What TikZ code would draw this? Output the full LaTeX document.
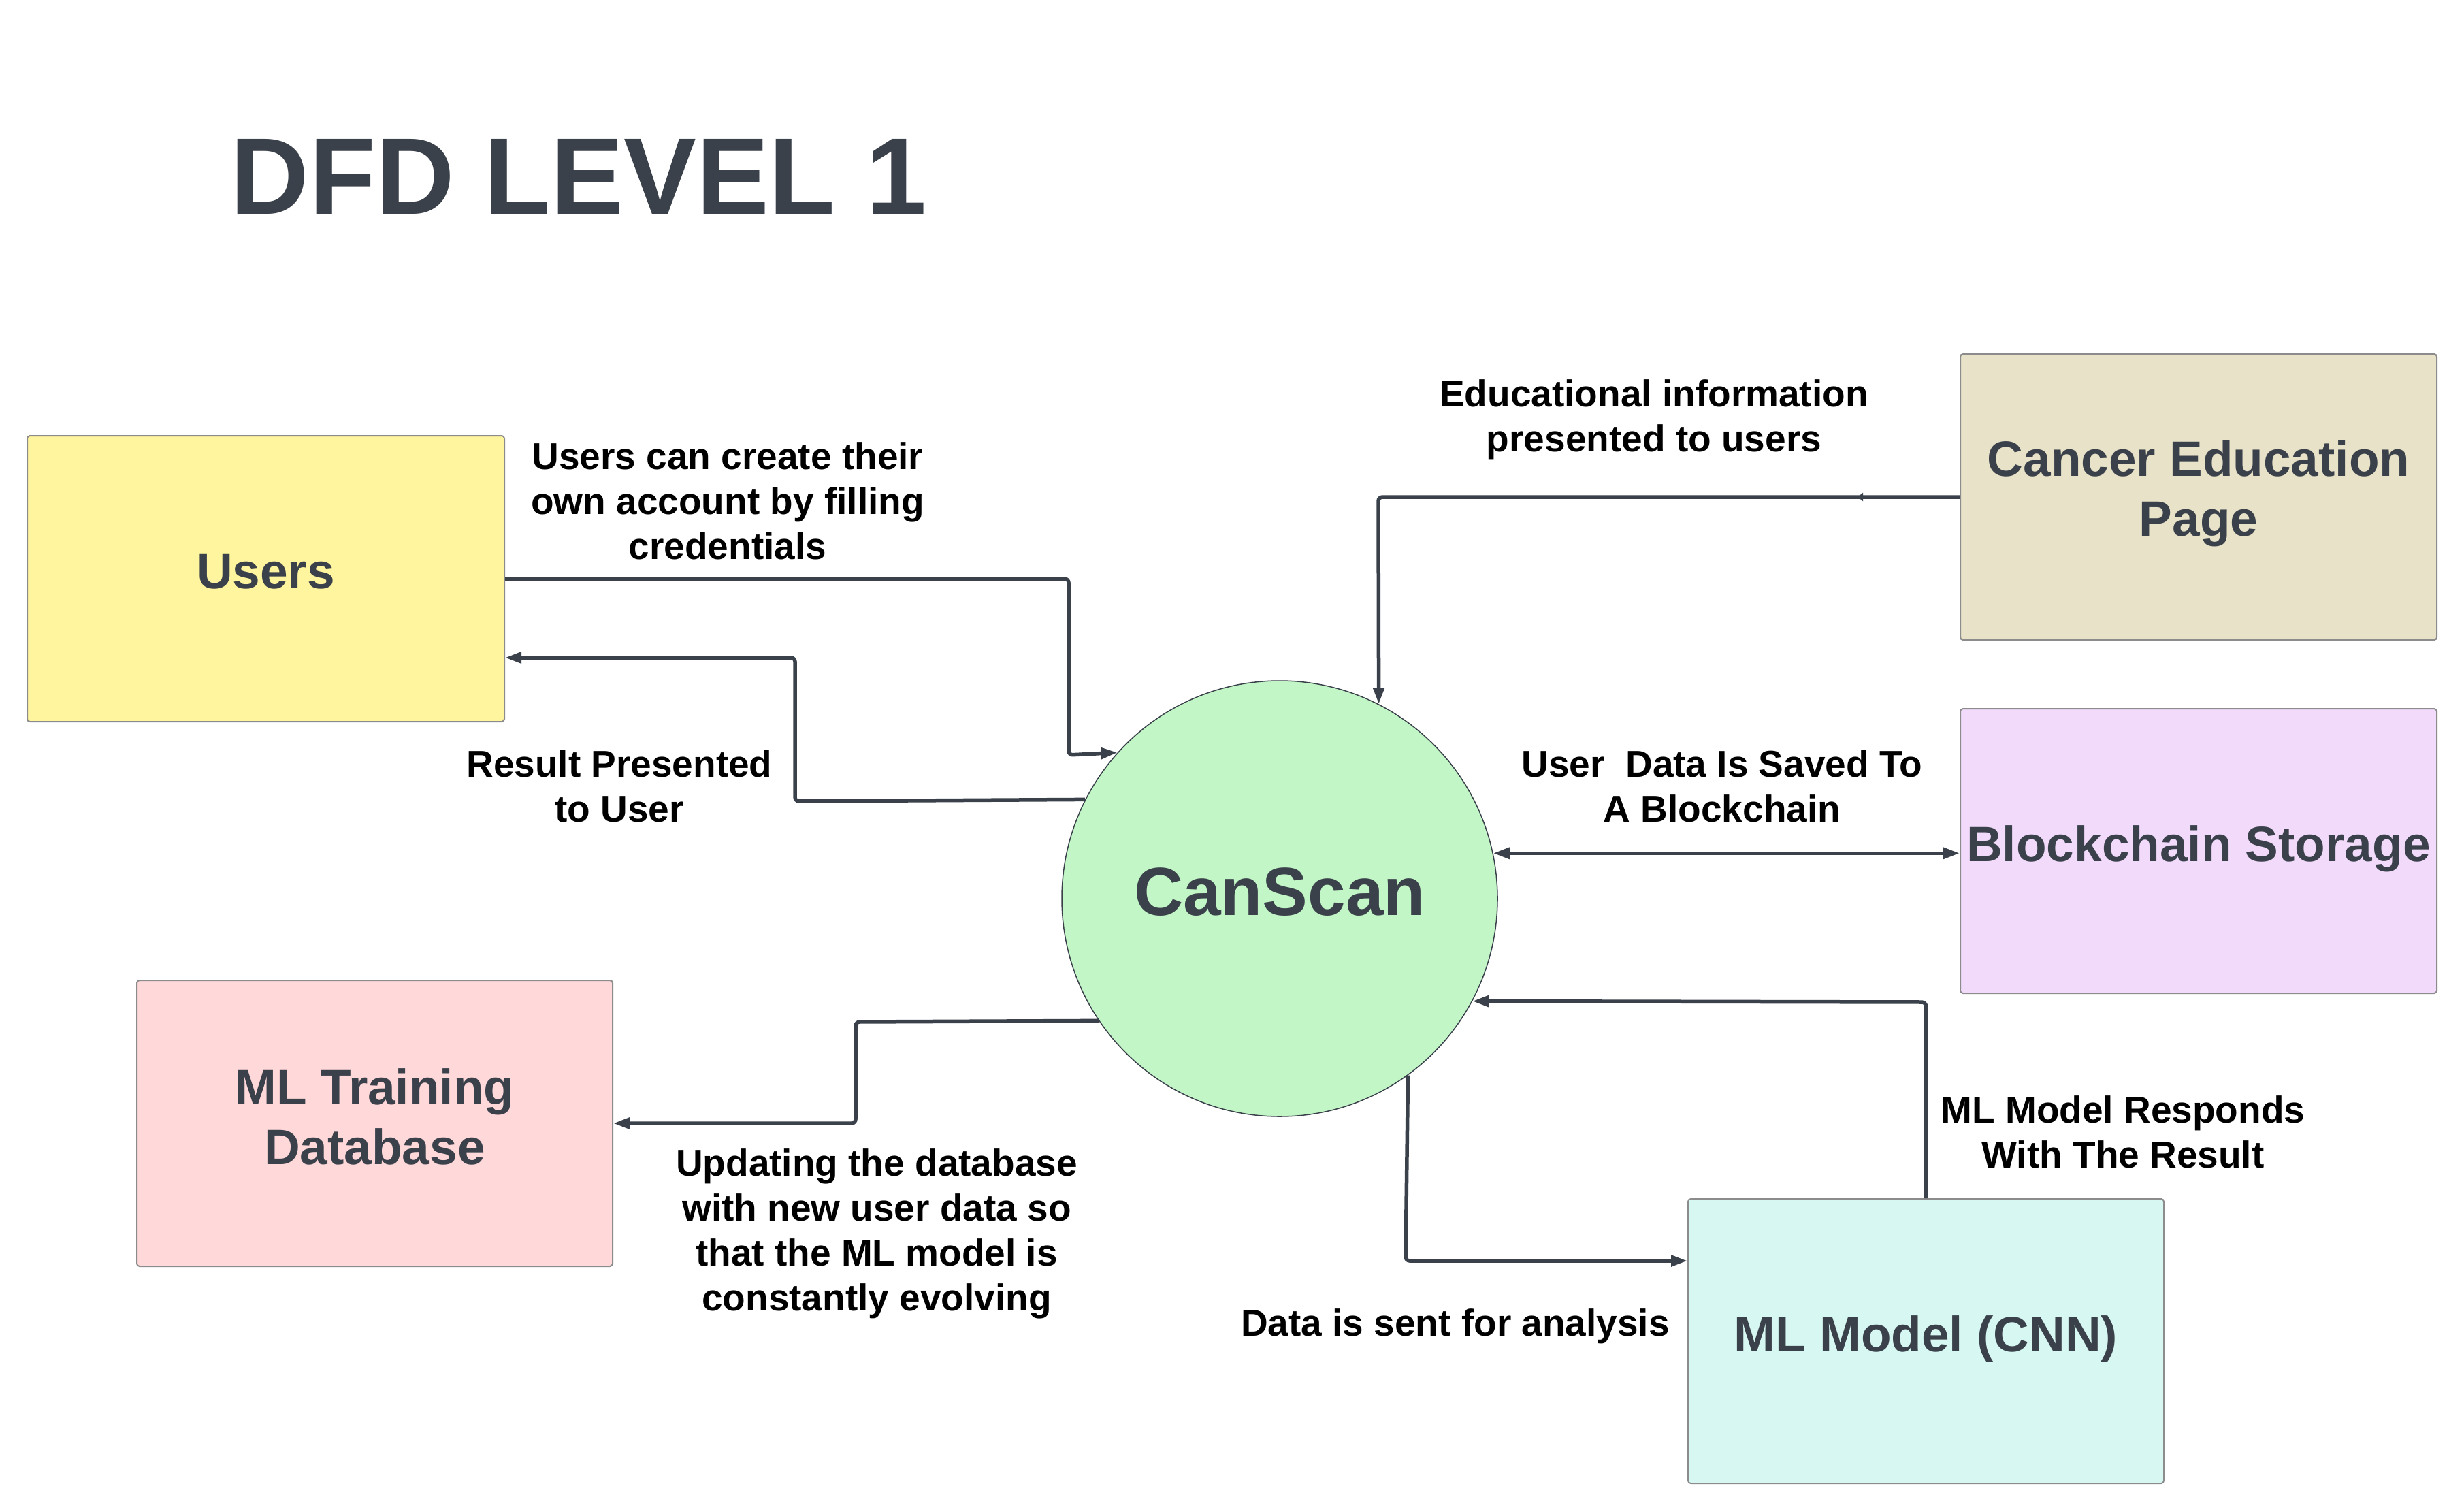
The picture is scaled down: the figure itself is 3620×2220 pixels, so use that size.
\documentclass[tikz,border=0pt]{standalone}
\usepackage{fontspec}
\setmainfont{Liberation Sans}
\usetikzlibrary{arrows.meta,decorations.markings,calc}
\definecolor{slate}{HTML}{3A414A}
\definecolor{boxline}{HTML}{8C8C8C}
\definecolor{usersfill}{HTML}{FFF59E}
\definecolor{cangreen}{HTML}{C3F6C7}
\definecolor{edufill}{HTML}{E8E2C8}
\definecolor{blockfill}{HTML}{F2DAFB}
\definecolor{trainfill}{HTML}{FFD8D9}
\definecolor{modelfill}{HTML}{D7F8F2}
\begin{document}
\begin{tikzpicture}[x=1pt,y=-1pt,
  box/.style={draw=boxline, line width=2pt, rounded corners=4pt,
    minimum width=700pt, minimum height=420pt, inner sep=0pt},
  boxtext/.style={text=slate, font=\fontsize{73}{88}\selectfont\bfseries,
    align=center, inner sep=0pt, yshift=10pt},
  flow/.style={draw=slate, line width=5.5pt, rounded corners=6pt,
    -{Triangle[length=24pt,width=16pt]}},
  lbl/.style={font=\fontsize{55}{66}\selectfont\bfseries, align=center,
    inner sep=0pt, text=black}]
\useasboundingbox (0,0) rectangle (3620,2220);
\fill[white] (0,0) rectangle (3620,2220);

% title
\node[text=slate, font=\fontsize{160}{172}\selectfont\bfseries, inner sep=0pt]
  (title) at (850,259) {DFD LEVEL 1};

% external entities / stores
\node[box, fill=usersfill, minimum width=701pt,
  label={[boxtext]center:Users}] (users) at (390.5,850) {};
\node[box, fill=edufill,
  label={[boxtext, yshift=-5pt]center:Cancer Education\\Page}] (cancer) at (3230,730) {};
\node[box, fill=blockfill, minimum height=418pt,
  label={[boxtext, yshift=-7pt]center:Blockchain Storage}] (block) at (3230,1250) {};
\node[box, fill=trainfill, minimum width=699pt,
  label={[boxtext]center:ML Training\\Database}] (mltrain) at (550.5,1650) {};
\node[box, fill=modelfill, minimum width=699pt, minimum height=418pt,
  label={[boxtext, yshift=-7pt]center:ML Model (CNN)}] (mlmodel) at (2829.5,1970) {};

% process
\node[circle, draw=slate, line width=1.5pt, fill=cangreen,
  minimum size=640pt, inner sep=0pt,
  label={[text=slate, font=\fontsize{100}{110}\selectfont\bfseries,
    inner sep=0pt, yshift=10pt]center:CanScan}] (canscan) at (1880,1320) {};

% helper coordinates
\coordinate (c1) at (1570,850);
\coordinate (c2) at (1570,1109);
\coordinate (r1) at (1168,1177);
\coordinate (r2) at (1168,966);
\coordinate (e1) at (2025,730);
\coordinate (m1) at (2829.5,1472);
\coordinate (d1) at (2065,1852);
\coordinate (u1) at (1257,1501);
\coordinate (u2) at (1257,1650);

% connectors
\draw[flow] (users.east) -- (c1) -- (c2) -- (canscan.138.75);
\draw[flow] (canscan.153.46) -- (r1) -- (r2) -- (users.east |- r2);
\draw[flow, postaction={decorate, decoration={markings,
    mark=at position 150pt with {\arrow{Triangle[length=8pt,width=12pt]}}}}]
  (cancer.west) -- (e1) -- (canscan.63.06);
\draw[flow, {Triangle[length=24pt,width=16pt]}-{Triangle[length=24pt,width=16pt]}]
  (canscan.12.45) -- (canscan.12.45 -| block.west);
\draw[flow] (mlmodel.north) -- (m1) -- (canscan.-28.36);
\draw[flow] (canscan.-54.68) -- (d1) -- (mlmodel.west |- d1);
\draw[flow] (canscan.214.45) -- (u1) -- (u2) -- (mltrain.east);

% flow labels
\node[lbl] (l1) at (1069,736) {Users can create their\\own account by filling\\credentials};
\node[lbl] (l2) at (910,1155) {Result Presented\\to User};
\node[lbl] (l3) at (2430,616) {Educational information\\presented to users};
\node[lbl] (l4) at (2530,1155) {User~~Data Is Saved To\\A Blockchain};
\node[lbl] (l5) at (3119,1663) {ML Model Responds\\With The Result};
\node[lbl] (l6) at (2138,1948) {Data is sent for analysis};
\node[lbl] (l7) at (1288,1812) {Updating the database\\with new user data so\\that the ML model is\\constantly evolving};
\end{tikzpicture}
\end{document}
